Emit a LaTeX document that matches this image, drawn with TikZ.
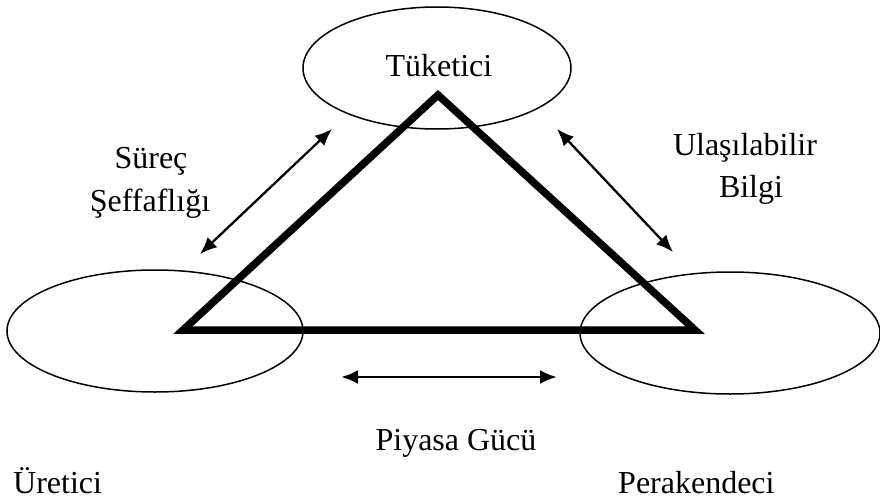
\documentclass[tikz,border=0pt]{standalone}
\usepackage{fontspec}
\setmainfont{Liberation Serif}
\usetikzlibrary{shapes.geometric,arrows.meta}
\begin{document}
\begin{tikzpicture}[x=1pt,y=-1pt,
  actor/.style={draw,ellipse,line width=1.5pt,inner sep=0pt},
  lbl/.style={anchor=base,inner sep=0pt,font=\fontsize{32}{42}\selectfont,align=center},
  flow/.style={line width=2.3pt,{Latex[length=17pt,width=14pt]}-{Latex[length=17pt,width=14pt]}},
  tri/.style={line width=7.5pt,line join=miter}]
\useasboundingbox (0,0) rectangle (880,500);
% the three actors
\node[actor,minimum width=268pt,minimum height=122pt] (tuk) at (437,68) {};
\node[actor,minimum width=296pt,minimum height=122pt] (ure) at (155,331) {};
\node[actor,minimum width=300pt,minimum height=122pt] (per) at (730,333) {};
% triangle
\coordinate (ta) at (438,95);
\coordinate (tl) at (183,330);
\coordinate (tr) at (695,330);
\draw[tri] (ta) -- (tl) -- (tr) -- cycle;
% relations
\coordinate (s1) at (332,129);
\coordinate (s2) at (200,254);
\coordinate (u1) at (557,129);
\coordinate (u2) at (673,252);
\coordinate (p1) at (341,377);
\coordinate (p2) at (557,377);
\draw[flow] (s2) -- (s1);
\draw[flow] (u1) -- (u2);
\draw[flow,line width=2.8pt] (p1) -- (p2);
% labels
\node[lbl] (ltuk) at (439,77) {Tüketici};
\node[lbl] (lsur) at (151,168) {Süreç};
\node[lbl] (lsef) at (150,211) {Şeffaflığı};
\node[lbl] (lula) at (745,155) {Ulaşılabilir};
\node[lbl] (lbil) at (751,197) {Bilgi};
\node[lbl] (lpiy) at (456,450) {Piyasa Gücü};
\node[lbl,anchor=base west] (lure) at (13,493) {Üretici};
\node[lbl,anchor=base west] (lper) at (618,493) {Perakendeci};
\end{tikzpicture}
\end{document}
